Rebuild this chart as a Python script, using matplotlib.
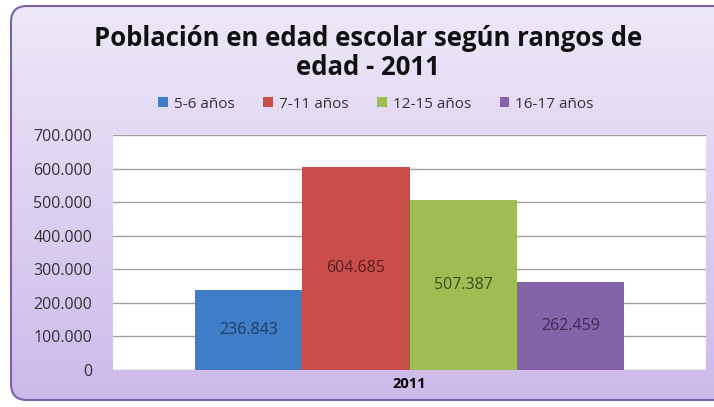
import numpy as np
import matplotlib.pyplot as plt
from matplotlib.patches import FancyBboxPatch
from matplotlib.ticker import FuncFormatter

categories = ["2011"]
series = ["5-6 años", "7-11 años", "12-15 años", "16-17 años"]
values = [236843, 604685, 507387, 262459]
colors = ["#3f7dc6", "#c94d48", "#9cbe52", "#8463a8"]
label_colors = ["#1f3f66", "#5a1f1c", "#3c4d1c", "#3d2a55"]

W, H = 714, 407
fig = plt.figure(figsize=(W / 100, H / 100), dpi=100)

# Background gradient with rounded border
bg = fig.add_axes([0, 0, 1, 1], zorder=-10)
bg.set_xlim(0, W)
bg.set_ylim(H, 0)
bg.axis("off")
grad = np.linspace(0, 1, 256).reshape(-1, 1)
top = np.array([0.93, 0.91, 0.97])
bot = np.array([0.80, 0.73, 0.92])
img = top[None, None, :] * (1 - grad[:, :, None]) + bot[None, None, :] * grad[:, :, None]
box = FancyBboxPatch((11, 6), 720, 394, boxstyle="round,pad=0,rounding_size=16",
                     facecolor="none", edgecolor="#7a62a8", linewidth=1.5, zorder=3)
im = bg.imshow(img, extent=(11, 731, 400, 6), aspect="auto", zorder=1)
bg.add_patch(box)
clip = FancyBboxPatch((11, 6), 720, 394, boxstyle="round,pad=0,rounding_size=16",
                      transform=bg.transData, facecolor="none", edgecolor="none")
bg.add_patch(clip)
im.set_clip_path(clip)

# Plot area: x 113..706, y 135..370
ax = fig.add_axes([113 / W, 1 - 370 / H, (706 - 113) / W, (370 - 135) / H])
ax.set_facecolor("white")
w = 0.1809
x0 = np.arange(len(categories))
for i, (s, v) in enumerate(zip(series, values)):
    xpos = x0 + (i - 1.5) * w
    ax.bar(xpos, [v], width=w, color=colors[i], label=s, zorder=3)
    ax.text(xpos[0], v / 2, f"{v:,}".replace(",", "."), ha="center", va="center",
            fontsize=11.5, color=label_colors[i], family="Open Sans", zorder=4)

ax.set_xlim(-0.5, 0.5)
ax.set_ylim(0, 700000)
ax.set_yticks(np.arange(0, 700001, 100000))
ax.yaxis.set_major_formatter(FuncFormatter(lambda v, p: f"{int(v):,}".replace(",", ".")))
ax.set_xticks(x0)
ax.set_xticklabels(categories, fontsize=10.5, fontweight="bold", family="Open Sans")
ax.grid(axis="y", color="#a0a0a0", linewidth=1, zorder=0)
for sp in ax.spines.values():
    sp.set_visible(False)
ax.tick_params(axis="both", length=0)
ax.tick_params(axis="x", pad=5)
ax.tick_params(axis="y", labelsize=11.5, labelcolor="#333333", pad=15)
for t in ax.get_yticklabels():
    t.set_family("Open Sans")

fig.text(368 / W, 1 - 53 / H, "Población en edad escolar según rangos de\nedad - 2011",
         ha="center", va="center", fontsize=18.5, fontweight="bold", family="Open Sans",
         color="#111111", linespacing=1.1)

leg = fig.legend(loc="center", bbox_to_anchor=(376 / W, 1 - 104 / H), ncol=4, frameon=False,
                 handlelength=0.6, handleheight=0.6, handletextpad=0.4,
                 columnspacing=1.9, prop={"family": "Open Sans", "size": 11})
for t in leg.get_texts():
    t.set_color("#333333")

fig.savefig("out.png", dpi=100)
